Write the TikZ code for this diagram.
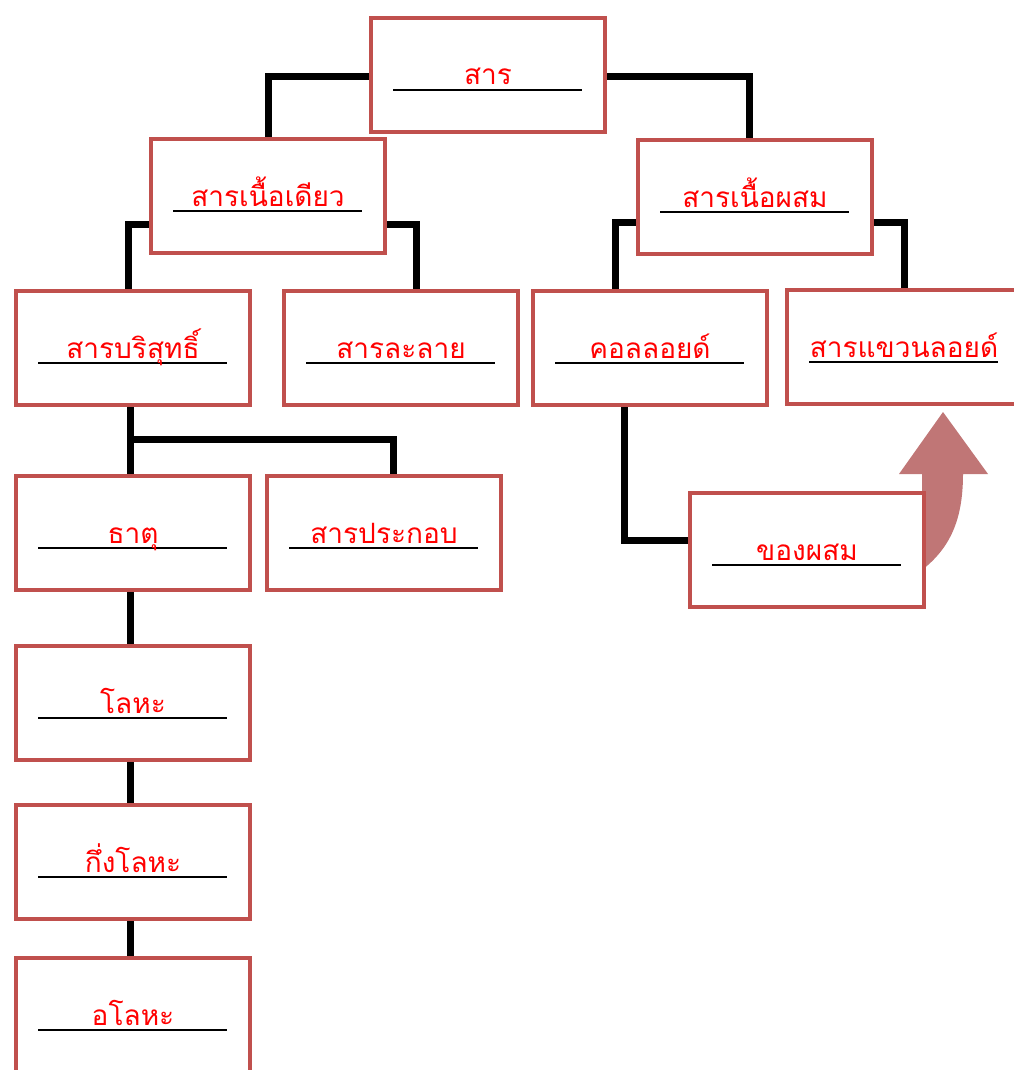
\documentclass[tikz,border=0pt]{standalone}
\usepackage{fontspec}
\newfontfamily\thaifont[Script=Thai]{Loma}
\usetikzlibrary{backgrounds}
\definecolor{boxred}{RGB}{192,80,77}
\definecolor{txtred}{RGB}{255,0,0}
\definecolor{arrowred}{RGB}{192,118,118}
\tikzset{
  box/.style={draw=boxred, line width=4pt, fill=white, minimum width=234pt, minimum height=114pt, inner sep=0pt, anchor=north west},
  uline/.style={draw=black, line width=1.8pt},
  lbl/.style={text=txtred, font=\thaifont\fontsize{28}{32}\selectfont, inner sep=0pt, anchor=base},
  conn/.style={draw=black, line width=7pt},
}
\newcommand\tbox[5]{% name, left x, top y, width, text
  \node[box, minimum width=#4] (#1) at (#2,#3) {};
  \draw[uline] ([xshift=24pt,yshift=-74pt]#1.north west) -- ([xshift=-25pt,yshift=-74pt]#1.north east);
  \node[lbl] (#1-t) at ([yshift=-69pt]#1.north) {#5};
}
\begin{document}
\begin{tikzpicture}[x=1pt,y=-1pt]
\useasboundingbox (0,0) rectangle (1013,1070);
\tbox{sar}{369}{16}{234pt}{สาร}
\tbox{homo}{149}{137}{234pt}{สารเนื้อเดียว}
\tbox{hetero}{636}{138}{234pt}{สารเนื้อผสม}
\tbox{pure}{14}{289}{234pt}{สารบริสุทธิ์}
\tbox{soln}{282}{289}{234pt}{สารละลาย}
\tbox{coll}{531}{289}{234pt}{คอลลอยด์}
\tbox{susp}{785}{288}{234pt}{สารแขวนลอยด์}
\tbox{elem}{14}{474}{234pt}{ธาตุ}
\tbox{comp}{265}{474}{234pt}{สารประกอบ}
\tbox{mixt}{688}{491}{234pt}{ของผสม}
\tbox{metal}{14}{644}{234pt}{โลหะ}
\tbox{semi}{14}{803}{234pt}{กึ่งโลหะ}
\tbox{nonmetal}{14}{956}{234pt}{อโลหะ}
\begin{scope}[on background layer]
  \fill[arrowred] (899,474) -- (943,412) -- (988,474) -- (963,474)
     .. controls (963,520) and (950,548) .. (922,570) -- (922,474) -- cycle;
  \draw[conn] ([yshift=-2pt]sar.west) -| (homo.north);
  \draw[conn] ([yshift=-2pt]sar.east) -| ([xshift=-6pt]hetero.north);
  \draw[conn] ([yshift=-28pt]homo.west) -| ([xshift=-5pt]pure.north);
  \draw[conn] ([yshift=-28pt]homo.east) -| ([xshift=15pt]soln.north);
  \draw[conn] ([yshift=-25pt]hetero.west) -| ([xshift=-35pt]coll.north);
  \draw[conn] ([yshift=-25pt]hetero.east) -| (susp.north);
  \draw[conn] ([xshift=-3pt]pure.south) -- ([xshift=-3pt]elem.north);
  \coordinate (br) at (127,439);
  \draw[conn] (br) -| ([xshift=9pt]comp.north);
  \draw[conn] ([xshift=-3pt]elem.south) -- ([xshift=-3pt]metal.north);
  \draw[conn] ([xshift=-3pt]metal.south) -- ([xshift=-3pt]semi.north);
  \draw[conn] ([xshift=-3pt]semi.south) -- ([xshift=-3pt]nonmetal.north);
  \draw[conn] ([xshift=-26pt]coll.south) |- ([yshift=10pt]mixt.west);
\end{scope}
\end{tikzpicture}
\end{document}
